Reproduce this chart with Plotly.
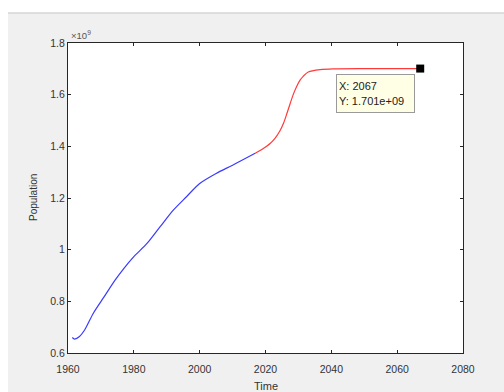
import plotly.graph_objects as go

# Data (population in units of 1e9)
blue_years = [1961.3, 1962, 1963.5, 1965, 1967.7, 1971, 1974.3, 1977, 1980, 1984, 1988, 1992, 1996, 2000, 2005, 2010, 2017]
blue_pop = [0.660, 0.654, 0.664, 0.688, 0.754, 0.818, 0.882, 0.928, 0.973, 1.024, 1.089, 1.153, 1.205, 1.256, 1.295, 1.327, 1.374]
red_years = [2017, 2019, 2021.4, 2023.0, 2024.4, 2025.5, 2026.5, 2027.5, 2028.5, 2029.5, 2030.5, 2031.5, 2033, 2036.6, 2040.6, 2050, 2060, 2067]
red_pop = [1.374, 1.389, 1.411, 1.433, 1.460, 1.490, 1.527, 1.566, 1.603, 1.633, 1.656, 1.672, 1.688, 1.697, 1.700, 1.701, 1.701, 1.701]
marker_year = [2067]
marker_pop = [1.701]
x_ticks = [1960, 1980, 2000, 2020, 2040, 2060, 2080]
y_ticks = [0.6, 0.8, 1.0, 1.2, 1.4, 1.6, 1.8]
y_ticktext = ["0.6", "0.8", "1", "1.2", "1.4", "1.6", "1.8"]

W, H = 504, 392
ml, mr, mt, mb = 68, 41, 43, 39
pw, ph = W - ml - mr, H - mt - mb
axc = "#262626"
font = "Liberation Sans, Arial, sans-serif"

fig = go.Figure()
fig.add_trace(go.Scatter(x=blue_years, y=blue_pop, mode="lines",
                         line=dict(color="#3a3aff", width=1.2, shape="spline", smoothing=0.8),
                         showlegend=False, hoverinfo="skip"))
fig.add_trace(go.Scatter(x=red_years, y=red_pop, mode="lines",
                         line=dict(color="#ff3a3a", width=1.2, shape="spline", smoothing=0.8),
                         showlegend=False, hoverinfo="skip"))
fig.add_trace(go.Scatter(x=marker_year, y=marker_pop, mode="markers",
                         marker=dict(symbol="square", size=8, color="black"),
                         showlegend=False, hoverinfo="skip", cliponaxis=False))

def px_x(p):
    return p / pw

def px_y(p):
    return p / ph

shapes = [
    dict(type="rect", xref="paper", yref="paper",
         x0=-px_x(ml) - 0.05, x1=1 + px_x(mr) + 0.05,
         y0=1 + px_y(mt - 13), y1=1 + px_y(mt) + 0.05,
         fillcolor="white", line=dict(width=0), layer="below"),
    dict(type="rect", xref="paper", yref="paper",
         x0=-px_x(ml) - 0.05, x1=-px_x(ml - 8),
         y0=-px_y(mb) - 0.05, y1=1 + px_y(mt) + 0.05,
         fillcolor="white", line=dict(width=0), layer="below"),
    dict(type="line", xref="paper", yref="paper",
         x0=-px_x(ml - 8), x1=1 + px_x(mr) + 0.05,
         y0=1 + px_y(mt - 13), y1=1 + px_y(mt - 13),
         line=dict(color="#d6d6d6", width=1.5), layer="below"),
]

annotations = [
    dict(text="\u00d710<sup>9</sup>", xref="paper", yref="paper", x=0, y=1,
         xanchor="left", yanchor="bottom", xshift=1, yshift=0, showarrow=False,
         font=dict(size=9.5, color="#555555", family=font)),
    dict(text="Population", xref="paper", yref="paper", x=0, y=0.5,
         xanchor="center", yanchor="middle", xshift=-35, textangle=-90, showarrow=False,
         font=dict(size=10, color="#333333", family=font)),
    dict(text="Time", xref="paper", yref="paper", x=0.5, y=0,
         xanchor="center", yanchor="middle", yshift=-33, showarrow=False,
         font=dict(size=11, color="#333333", family=font)),
    dict(text="X: 2067<br>Y: 1.701e+09", xref="x", yref="y", x=marker_year[0], y=marker_pop[0],
         xanchor="right", yanchor="top", xshift=-5, yshift=-5, showarrow=False, align="left",
         width=73, height=33, valign="middle",
         bgcolor="#ffffe6", bordercolor="#9a9a9a", borderwidth=1, borderpad=2,
         font=dict(size=11, color="#222222", family=font)),
]

fig.update_layout(
    width=W, height=H,
    margin=dict(l=ml, r=mr, t=mt, b=mb, pad=0),
    paper_bgcolor="#f0f0f0", plot_bgcolor="white",
    font=dict(family=font, size=10.5, color="#333333"),
    shapes=shapes, annotations=annotations,
    xaxis=dict(range=[1960, 2080], tickvals=x_ticks, ticks="inside", ticklen=3,
               tickcolor=axc, showline=True, linecolor=axc, linewidth=1, mirror="ticks",
               showgrid=False, zeroline=False, ticklabelstandoff=6,
               tickfont=dict(size=10.5, color="#333333")),
    yaxis=dict(range=[0.6, 1.8], tickvals=y_ticks, ticktext=y_ticktext, ticks="inside", ticklen=3,
               tickcolor=axc, showline=True, linecolor=axc, linewidth=1, mirror="ticks",
               showgrid=False, zeroline=False,
               tickfont=dict(size=10.5, color="#333333")),
)

fig.write_html("out.html", config={"displayModeBar": False},
               post_script="document.body.style.margin='0';document.body.style.overflow='hidden';")
